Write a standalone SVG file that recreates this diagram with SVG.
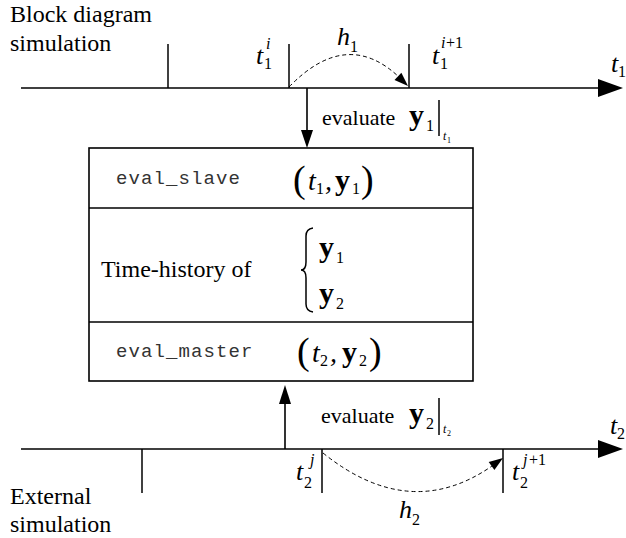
<svg xmlns="http://www.w3.org/2000/svg" width="626" height="538" viewBox="0 0 626 538">
<style>
.ln{stroke:#000;stroke-width:1.6;fill:none}
.tk{stroke:#000;stroke-width:1.5;fill:none}
.ds{stroke:#000;stroke-width:1;fill:none;stroke-dasharray:4,3}
.hd{fill:#000;stroke:none}
text{font-family:'Liberation Serif','DejaVu Serif',serif;fill:#000}
.lab{font-size:24px}
.ev{font-size:22px}
.it{font-style:italic;font-size:26px}
.itb{font-style:italic;font-size:28px}
.sb{font-size:16px}
.sbi{font-style:italic;font-size:16px}
.tiny{font-style:italic;font-size:12px}
.tiny2{font-size:8px}
.bf{font-weight:bold;font-size:30px}
.par{font-size:38px}
text.mono{font-family:'Liberation Mono','DejaVu Sans Mono',monospace;font-size:19px;letter-spacing:1.1px;fill:#333}
</style>

<g id="top-axis">
<text class="lab" x="10" y="22">Block diagram</text>
<text class="lab" x="10" y="51">simulation</text>
<line class="ln" x1="21" y1="88" x2="600" y2="88"/>
<polygon class="hd" points="598,79 623,88 598,97"/>
<line class="tk" x1="168" y1="44" x2="168" y2="88"/>
<line class="tk" x1="289" y1="44" x2="289" y2="88"/>
<line class="tk" x1="409" y1="44" x2="409" y2="88"/>
<text class="it" x="256" y="64">t</text>
<text class="sb" x="264" y="69">1</text>
<text class="sbi" x="266" y="49">i</text>
<text class="it" x="337" y="45">h</text>
<text class="sb" x="350" y="52">1</text>
<text class="it" x="432" y="64">t</text>
<text class="sb" x="440" y="69">1</text>
<text class="sbi" x="441" y="48">i</text>
<text class="sb" x="446" y="48">+1</text>
<text class="it" x="611" y="72">t</text>
<text class="sb" x="618" y="77">1</text>
</g>

<g id="bottom-axis">
<text class="lab" x="10" y="504">External</text>
<text class="lab" x="10" y="532">simulation</text>
<line class="ln" x1="21" y1="449" x2="600" y2="449"/>
<polygon class="hd" points="598,440 623,449 598,458"/>
<line class="tk" x1="142" y1="449" x2="142" y2="493"/>
<line class="tk" x1="322" y1="449" x2="322" y2="493"/>
<line class="tk" x1="503" y1="449" x2="503" y2="493"/>
<text class="it" x="296" y="480">t</text>
<text class="sb" x="304" y="488">2</text>
<text class="sbi" x="310" y="465">j</text>
<text class="it" x="512" y="480">t</text>
<text class="sb" x="520" y="488">2</text>
<text class="sbi" x="523" y="465">j</text>
<text class="sb" x="529" y="465">+1</text>
<text class="it" x="399" y="518">h</text>
<text class="sb" x="412" y="525">2</text>
<text class="it" x="610" y="434">t</text>
<text class="sb" x="617" y="439">2</text>
</g>

<g id="box">
<rect class="ln" x="89" y="148" width="384" height="233"/>
<line class="ln" x1="89" y1="208" x2="473" y2="208"/>
<line class="ln" x1="89" y1="322" x2="473" y2="322"/>
<text class="mono" x="116" y="184">eval_slave</text>
<text class="par" x="293" y="192">(</text>
<text class="itb" x="308" y="190">t</text>
<text class="sb" x="316" y="194">1</text>
<text class="itb" x="325" y="190">,</text>
<text class="bf" x="335" y="190">y</text>
<text class="sb" x="352" y="194">1</text>
<text class="par" x="361" y="192">)</text>

<text class="lab" x="101" y="277">Time-history of</text>
<path class="tk" d="M313,228 Q306,229 306,236 L306,262 Q306,270 301,270 Q306,270 306,278 L306,304 Q306,311 313,312" stroke-width="1.2"/>
<text class="bf" x="319" y="257">y</text>
<text class="sb" x="336" y="263">1</text>
<text class="bf" x="319" y="303">y</text>
<text class="sb" x="336" y="309">2</text>

<text class="mono" x="116" y="357">eval_master</text>
<text class="par" x="297" y="364">(</text>
<text class="itb" x="312" y="362">t</text>
<text class="sb" x="320" y="366">2</text>
<text class="itb" x="330" y="362">,</text>
<text class="bf" x="342" y="362">y</text>
<text class="sb" x="359" y="366">2</text>
<text class="par" x="369" y="364">)</text>
</g>

<g id="connectors">
<line class="ln" x1="307" y1="88" x2="307" y2="132"/>
<polygon class="hd" points="301,130 313,130 307,148"/>
<text class="ev" x="322" y="125">evaluate</text>
<text class="bf" x="409" y="125">y</text>
<text class="sb" x="426" y="131">1</text>
<line class="tk" x1="439" y1="100" x2="439" y2="136" stroke-width="1.2"/>
<text class="tiny" x="443" y="140">t</text>
<text class="tiny2" x="447" y="143">1</text>

<line class="ln" x1="285" y1="449" x2="285" y2="400"/>
<polygon class="hd" points="279,404 291,404 285,385"/>
<text class="ev" x="321" y="423">evaluate</text>
<text class="bf" x="409" y="423">y</text>
<text class="sb" x="426" y="429">2</text>
<line class="tk" x1="439" y1="398" x2="439" y2="435" stroke-width="1.2"/>
<text class="tiny" x="443" y="433">t</text>
<text class="tiny2" x="447" y="436">2</text>

<path class="ds" d="M289,87 Q347,27 400,78"/>
<polygon class="hd" points="408,86 394.5,79.9 401.4,72.7"/>
<path class="ds" d="M323,453 Q410,523 492,466"/>
<polygon class="hd" points="503,458 494.4,470.1 488.7,461.9"/>
</g>
</svg>
